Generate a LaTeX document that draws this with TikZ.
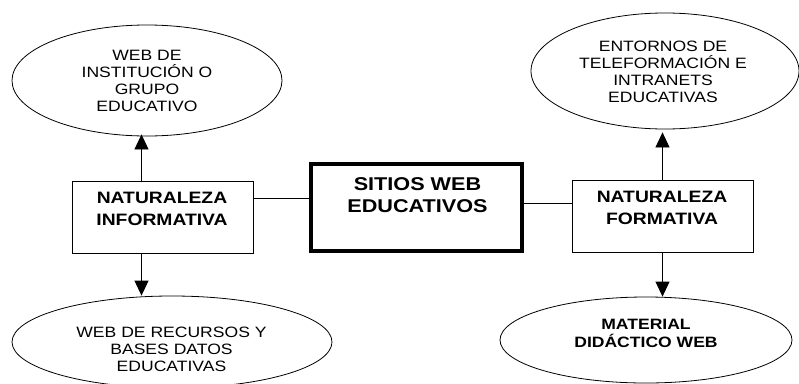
\documentclass[tikz,border=0pt]{standalone}
\usepackage{fontspec}
\setmainfont{Liberation Sans}[FakeStretch=1.17]
\usetikzlibrary{shapes.geometric,arrows.meta}
\tikzset{
  oval/.style={draw, ellipse, line width=0.8pt, inner sep=0pt},
  sidebox/.style={draw, rectangle, line width=0.9pt, minimum width=181pt, minimum height=72pt, inner sep=0pt},
  mainbox/.style={draw, rectangle, line width=4pt, minimum width=211pt, minimum height=87pt, inner sep=0pt},
  ovaltext/.style={align=center, inner sep=0pt, font=\fontsize{15}{16.9}\selectfont},
  boxtext/.style={align=center, inner sep=0pt, font=\fontsize{16.5}{22.5}\selectfont\bfseries},
  maintext/.style={align=center, inner sep=0pt, font=\fontsize{18.5}{21.7}\selectfont\bfseries},
  link/.style={line width=0.8pt},
  arr/.style={line width=0.8pt, -{Triangle[length=15pt,width=14pt]}}
}
\begin{document}
\begin{tikzpicture}[x=1pt,y=-1pt]
\useasboundingbox (0,0) rectangle (799,383);
% shapes
\node[oval, minimum width=270pt, minimum height=111pt] (tl) at (147,80.5) {};
\node[oval, minimum width=268pt, minimum height=116pt] (tr) at (665,71) {};
\node[oval, minimum width=320pt, minimum height=92pt] (bl) at (172,342) {};
\node[oval, minimum width=292pt, minimum height=86pt] (br) at (646,340) {};
\node[sidebox] (lbox) at (162.5,217) {};
\node[sidebox] (rbox) at (662.5,216) {};
\node[mainbox] (cbox) at (416.5,207.5) {};
% texts
\node[ovaltext] (tlt) at (147,81) {WEB DE\\INSTITUCIÓN O\\GRUPO\\EDUCATIVO};
\node[ovaltext] (trt) at (663,72) {ENTORNOS DE\\TELEFORMACIÓN E\\INTRANETS\\EDUCATIVAS};
\node[ovaltext] (blt) at (171.5,349) {WEB DE RECURSOS Y\\BASES DATOS\\EDUCATIVAS};
\node[ovaltext, font=\fontsize{15}{17.3}\selectfont\bfseries] (brt) at (646,333.5) {MATERIAL\\DIDÁCTICO WEB};
\node[boxtext] (lboxt) at (162,209) {NATURALEZA\\INFORMATIVA};
\node[boxtext] (rboxt) at (662,208) {NATURALEZA\\FORMATIVA};
\node[maintext] (cboxt) at (417.5,195) {SITIOS WEB\\EDUCATIVOS};
% connectors
\coordinate (c1) at ([yshift=19pt]lbox.east);
\draw[link] (c1) -- (c1 -| cbox.west);
\coordinate (c2) at ([yshift=4.5pt]cbox.east);
\draw[link] (c2) -- (c2 -| rbox.west);
\coordinate (a1) at ([xshift=-21pt]lbox.north);
\draw[arr, shorten >=-2pt] (a1) -- (a1 |- tl.south);
\coordinate (a2) at ([xshift=-21pt]lbox.south);
\draw[arr] (a2) -- (a2 |- bl.north);
\draw[arr, shorten >=3pt] (rbox.north) -- (rbox.north |- tr.south);
\draw[arr] (rbox.south) -- (rbox.south |- br.north);
\end{tikzpicture}
\end{document}
